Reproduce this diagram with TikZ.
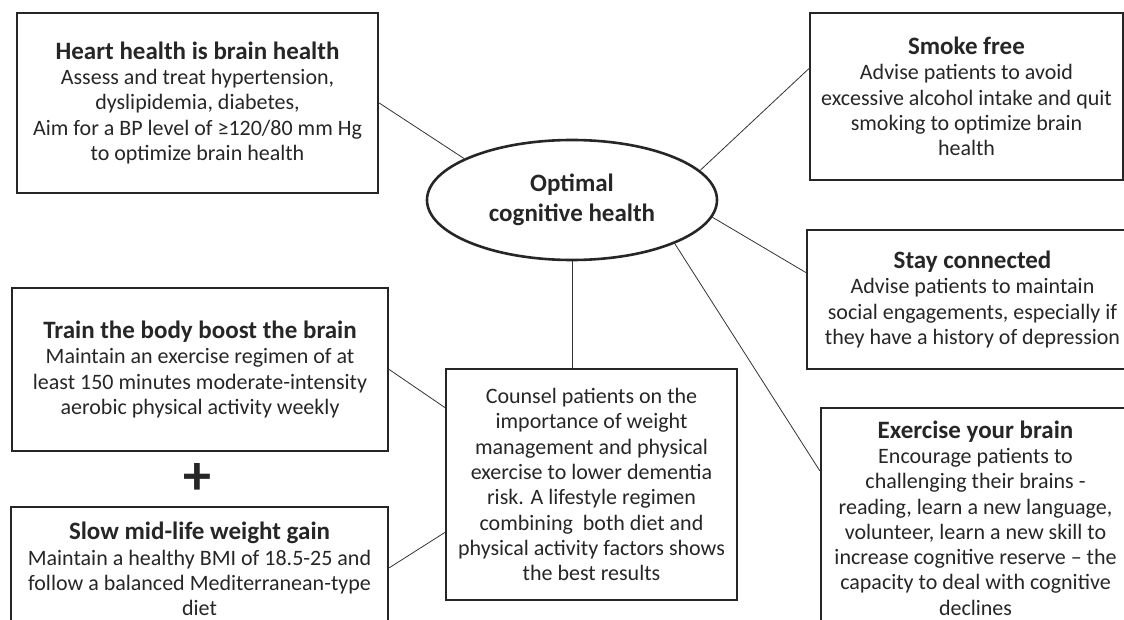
\documentclass[tikz,border=0pt]{standalone}
\usepackage{fontspec}
\setmainfont{Carlito}
\usetikzlibrary{shapes.geometric}
\newcommand{\boxhead}[1]{{\fontsize{25}{27}\selectfont\bfseries #1}}

\begin{document}
\begin{tikzpicture}[x=1pt, y=-1pt,
  box/.style={draw=black!85, line width=2.4pt, align=center, inner sep=0pt, text=black!85, font=\fontsize{22}{25.3}\selectfont},
  hub/.style={ellipse, draw=black!85, line width=2.6pt, inner sep=0pt, minimum width=290pt, minimum height=120pt, align=center, text=black!85, font=\fontsize{25}{30}\selectfont\bfseries},
  link/.style={draw=black!80, line width=0.8pt}]
  \clip (0,0) rectangle (1124,620);
  \node[hub] (ell) at (572,200) {Optimal\\cognitive health};
  \node[box, minimum width=361pt, minimum height=180pt] (heart) at (197.5,103)
  {\boxhead{Heart health is brain health}\\Assess and treat hypertension,\\dyslipidemia, diabetes,\\Aim for a BP level of ≥120/80 mm Hg\\to optimize brain health};
  \node[box, minimum width=313pt, minimum height=167pt] (smoke) at (966.5,96.5)
  {\boxhead{Smoke free}\\Advise patients to avoid\\excessive alcohol intake and quit\\smoking to optimize brain\\health};
  \node[box, minimum width=331pt, minimum height=139pt] (stay) at (972.5,299.5)
  {\boxhead{Stay connected}\\Advise patients to maintain\\social engagements, especially if\\they have a history of depression};
  \node[box, minimum width=309pt, minimum height=220pt] (brain) at (975.5,518)
  {\boxhead{Exercise your brain}\\Encourage patients to\\challenging their brains -\\reading, learn a new language,\\volunteer, learn a new skill to\\increase cognitive reserve -- the\\capacity to deal with cognitive\\declines};
  \node[box, minimum width=376pt, minimum height=163pt] (train) at (200,369.5)
  {\boxhead{Train the body boost the brain}\\Maintain an exercise regimen of at\\least 150 minutes moderate-intensity\\aerobic physical activity weekly};
  \node[text=black!85, font=\fontsize{56}{56}\selectfont\bfseries] (plus) at (197,479) {+};
  \node[box, minimum width=377pt, minimum height=124pt] (slow) at (199.5,569)
  {\boxhead{Slow mid-life weight gain}\\Maintain a healthy BMI of 18.5-25 and\\follow a balanced Mediterranean-type\\diet};
  \node[box, minimum width=291pt, minimum height=231pt] (counsel) at (591.5,484.5)
  {Counsel patients on the\\importance of weight\\management and physical\\exercise to lower dementia\\risk. A lifestyle regimen\\combining\ \ both diet and\\physical activity factors shows\\the best results};
  \path[link]
  (heart.east) edge (ell.159)
  (smoke.170) edge (ell.13)
  ([yshift=27pt]stay.west) edge (ell.-7)
  ([yshift=-64pt]brain.north west) edge (ell.-23)
  (ell.south) edge (ell.south |- counsel.north)
  (train.east) edge ([yshift=77pt]counsel.west)
  ([yshift=-62pt]slow.north east) edge ([yshift=-48pt]counsel.west)
  ;
\end{tikzpicture}
\end{document}
